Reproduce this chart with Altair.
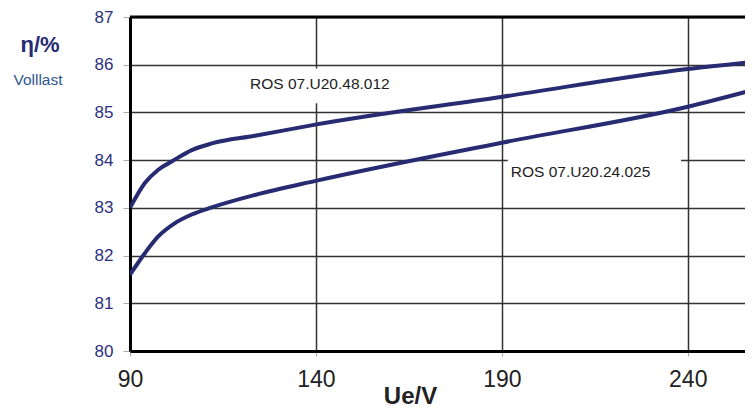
import altair as alt
import pandas as pd

FONT = "Liberation Sans"

# --- data ---
v_48 = [90, 94, 97.6, 101.2, 106.6, 112, 123.6, 140.2, 190.3, 240, 257.5]
eta_48 = [83.0, 83.52, 83.80, 83.97, 84.21, 84.35, 84.51, 84.75, 85.33, 85.91, 86.06]

v_24 = [90, 94, 97.6, 102.1, 106.6, 112, 123.6, 140.2, 190.3, 240, 257.5]
eta_24 = [81.6, 82.05, 82.40, 82.68, 82.86, 83.01, 83.27, 83.57, 84.37, 85.12, 85.47]

x_ticks = [90, 140, 190, 240]
y_ticks = [80, 81, 82, 83, 84, 85, 86, 87]
x_domain = [90, 255.4]
y_domain = [80, 87]

label_text = ["ROS 07.U20.48.012", "ROS 07.U20.24.025"]
label_x = [122.3, 192.4]
label_y = [85.6, 83.76]
box_x = [120.9, 191.6]
box_x2 = [160.4, 238.2]
box_y = [85.92, 84.1]
box_y2 = [85.19, 83.4]

lines_df = pd.DataFrame(
    {"U": v_48 + v_24,
     "eta": eta_48 + eta_24,
     "series": ["48.012"] * len(v_48) + ["24.025"] * len(v_24)}
)
labels_df = pd.DataFrame({"x": label_x, "y": label_y, "text": label_text})
boxes_df = pd.DataFrame({"x": box_x, "x2": box_x2, "y": box_y, "y2": box_y2})
top_df = pd.DataFrame({"y": [y_domain[1]]})

x_scale = alt.Scale(domain=x_domain, nice=False, zero=False)
y_scale = alt.Scale(domain=y_domain, nice=False, zero=False)

x_axis = alt.Axis(
    values=x_ticks, title="Ue/V", grid=True, gridColor="#333333", gridWidth=1.5,
    domainColor="#000000", domainWidth=3, tickColor="#aaaaaa", tickSize=5,
    labelFont=FONT, labelFontSize=23, labelColor="#222222", labelPadding=12,
    labelFlush=False,
    titleFont=FONT, titleFontSize=24, titleFontWeight="bold", titleColor="#222222",
    titleX=280, titleY=52, titleBaseline="alphabetic", titleAlign="center",
)
y_axis = alt.Axis(
    values=y_ticks, title=None, grid=True, gridColor="#333333", gridWidth=1.5,
    domainColor="#000000", domainWidth=3, tickColor="#aaaaaa", tickSize=7,
    labelFont=FONT, labelFontSize=17, labelColor="#2e3180", labelPadding=10,
    labelFlush=False,
)

base_x = alt.X("U:Q", scale=x_scale, axis=x_axis)
base_y = alt.Y("eta:Q", scale=y_scale, axis=y_axis)

boxes = alt.Chart(boxes_df).mark_rect(color="white").encode(
    x=alt.X("x:Q", scale=x_scale, axis=x_axis),
    x2="x2:Q",
    y=alt.Y("y:Q", scale=y_scale, axis=y_axis),
    y2="y2:Q",
)

top_rule = alt.Chart(top_df).mark_rule(color="black", strokeWidth=3).encode(
    y=alt.Y("y:Q", scale=y_scale, axis=y_axis)
)

labels = alt.Chart(labels_df).mark_text(
    align="left", baseline="middle", font=FONT, fontSize=15.5, color="#222222"
).encode(
    x=alt.X("x:Q", scale=x_scale, axis=x_axis),
    y=alt.Y("y:Q", scale=y_scale, axis=y_axis),
    text="text:N",
)

lines = alt.Chart(lines_df).mark_line(
    color="#272b72", strokeWidth=4, interpolate="monotone", clip=True
).encode(x=base_x, y=base_y, detail="series:N")

eta_title = alt.Chart(pd.DataFrame({"t": ["η/%"]})).mark_text(
    font=FONT, fontSize=22, fontWeight="bold", color="#272b72",
    align="center", baseline="alphabetic"
).encode(x=alt.value(-90), y=alt.value(35), text="t:N")

vl_title = alt.Chart(pd.DataFrame({"t": ["Volllast"]})).mark_text(
    font=FONT, fontSize=15.5, color="#2f5590", align="center", baseline="alphabetic"
).encode(x=alt.value(-92), y=alt.value(68), text="t:N")

chart = alt.layer(boxes, top_rule, labels, lines, eta_title, vl_title).properties(
    width=615, height=334,
    autosize=alt.AutoSizeParams(type="none"),
    padding={"left": 122, "top": 9, "right": 0, "bottom": 58},
    background="white",
).configure_view(stroke=None)

chart.save("out.html", embed_options={"renderer": "svg", "actions": False})
